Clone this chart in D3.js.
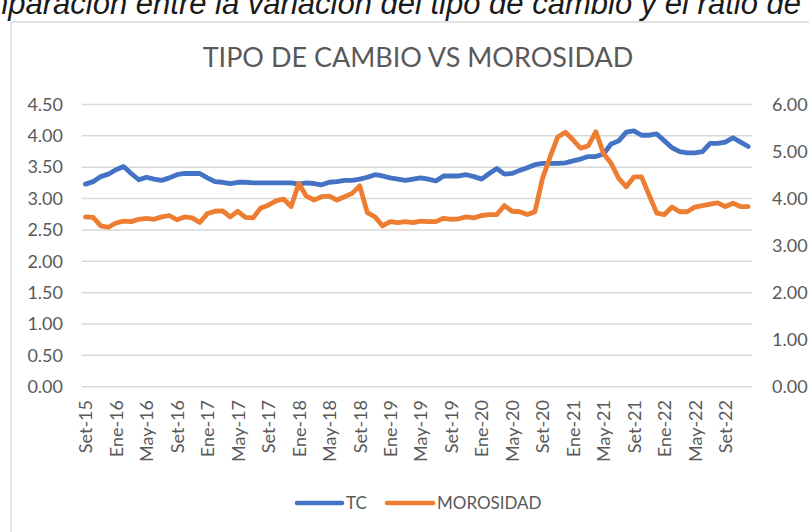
<!DOCTYPE html>
<html><head><meta charset="utf-8">
<script src="https://cdn.jsdelivr.net/npm/d3@7"></script>
<style>
html,body{margin:0;padding:0;background:#fff;}
svg{display:block;}
text{font-family:Lato,"Open Sans",sans-serif;}
</style></head>
<body>
<svg id="chart" width="809" height="532"></svg>
<script>
const categories = ["Set-15","Oct-15","Nov-15","Dic-15",
"Ene-16","Feb-16","Mar-16","Abr-16","May-16","Jun-16","Jul-16","Ago-16","Set-16","Oct-16","Nov-16","Dic-16",
"Ene-17","Feb-17","Mar-17","Abr-17","May-17","Jun-17","Jul-17","Ago-17","Set-17","Oct-17","Nov-17","Dic-17",
"Ene-18","Feb-18","Mar-18","Abr-18","May-18","Jun-18","Jul-18","Ago-18","Set-18","Oct-18","Nov-18","Dic-18",
"Ene-19","Feb-19","Mar-19","Abr-19","May-19","Jun-19","Jul-19","Ago-19","Set-19","Oct-19","Nov-19","Dic-19",
"Ene-20","Feb-20","Mar-20","Abr-20","May-20","Jun-20","Jul-20","Ago-20","Set-20","Oct-20","Nov-20","Dic-20",
"Ene-21","Feb-21","Mar-21","Abr-21","May-21","Jun-21","Jul-21","Ago-21","Set-21","Oct-21","Nov-21","Dic-21",
"Ene-22","Feb-22","Mar-22","Abr-22","May-22","Jun-22","Jul-22","Ago-22","Set-22","Oct-22","Nov-22","Dic-22"];

const tc = [3.23,3.27,3.35,3.39,3.46,3.51,3.40,3.30,3.34,3.31,3.29,3.33,3.38,3.40,3.40,3.40,
3.33,3.27,3.26,3.24,3.26,3.26,3.25,3.25,3.25,3.25,3.25,3.25,
3.23,3.25,3.24,3.22,3.26,3.27,3.29,3.29,3.31,3.34,3.38,3.36,
3.33,3.31,3.29,3.31,3.33,3.31,3.28,3.36,3.36,3.36,3.38,3.35,
3.31,3.40,3.48,3.39,3.40,3.45,3.49,3.54,3.56,3.56,3.56,3.57,
3.60,3.63,3.67,3.67,3.71,3.87,3.92,4.06,4.08,4.01,4.01,4.03,
3.92,3.81,3.75,3.73,3.73,3.75,3.88,3.88,3.90,3.97,3.90,3.83];

const morosidad = [3.61,3.60,3.42,3.39,3.48,3.52,3.51,3.56,3.58,3.56,3.61,3.64,3.55,3.61,3.59,3.49,
3.68,3.73,3.74,3.61,3.73,3.60,3.59,3.80,3.86,3.95,3.99,3.83,
4.32,4.05,3.97,4.04,4.05,3.97,4.04,4.11,4.27,3.70,3.61,3.42,
3.51,3.49,3.51,3.49,3.52,3.51,3.51,3.58,3.56,3.57,3.61,3.59,
3.64,3.66,3.66,3.85,3.73,3.72,3.66,3.72,4.43,4.89,5.31,5.41,
5.25,5.07,5.12,5.42,4.96,4.75,4.43,4.25,4.46,4.46,4.07,3.69,
3.66,3.82,3.72,3.72,3.82,3.85,3.88,3.91,3.83,3.90,3.83,3.83];

const leftTicks = [0,0.5,1,1.5,2,2.5,3,3.5,4,4.5];
const rightTicks = [0,1,2,3,4,5,6];
const seriesNames = ["TC","MOROSIDAD"];
const colors = {TC:"#4472C4", MOROSIDAD:"#ED7D31"};

const svg = d3.select("#chart");
const plotL = 81.7, plotR = 752, plotT = 104.5, plotB = 386.7;

// caption cut at top (as in the source image)
svg.append("text")
  .attr("x", 801).attr("y", 14)
  .attr("text-anchor","end")
  .style("font-family","'Liberation Sans',Arial,sans-serif")
  .style("font-style","italic")
  .style("font-size","31px")
  .attr("fill","#1a1a1a")
  .text("Comparación entre la variación del tipo de cambio y el ratio de");

// chart frame
svg.append("rect").attr("x",11).attr("y",22).attr("width",1000).attr("height",1000)
  .attr("fill","#fff").attr("stroke","#d9d9d9").attr("stroke-width",1.5);

const x = d3.scalePoint().domain(categories).range([plotL, plotR]).padding(0.5);
const yL = d3.scaleLinear().domain([0,4.5]).range([plotB, plotT]);
const yR = d3.scaleLinear().domain([0,6]).range([plotB, plotT]);

// gridlines
svg.append("g").selectAll("line").data(leftTicks).join("line")
  .attr("x1", plotL).attr("x2", plotR)
  .attr("y1", d=>yL(d)).attr("y2", d=>yL(d))
  .attr("stroke","#d9d9d9").attr("stroke-width",1.5);

// left axis
const axL = d3.axisLeft(yL).tickValues(leftTicks).tickFormat(d3.format(".2f")).tickSize(0).tickPadding(0);
const gL = svg.append("g").attr("transform",`translate(${63},0)`).call(axL);
gL.select(".domain").remove();
gL.selectAll("text").attr("fill","#595959").style("font-size","18px").style("font-family","Lato,sans-serif");

// right axis
const axR = d3.axisRight(yR).tickValues(rightTicks).tickFormat(d3.format(".2f")).tickSize(0).tickPadding(0);
const gR = svg.append("g").attr("transform",`translate(${772},0)`).call(axR);
gR.select(".domain").remove();
gR.selectAll("text").attr("fill","#595959").style("font-size","18px").style("font-family","Lato,sans-serif");

// x axis labels every 4 months
const xLabels = categories.filter((c,i)=> i % 4 === 0);
const axX = d3.axisBottom(x).tickValues(xLabels).tickSize(0).tickPadding(0);
const gX = svg.append("g").attr("transform",`translate(0,${400})`).call(axX);
gX.select(".domain").remove();
gX.selectAll("text")
  .attr("fill","#595959").style("font-size","18px").style("font-family","Lato,sans-serif")
  .attr("text-anchor","end")
  .attr("transform","rotate(-90)")
  .attr("x",0).attr("y",0).attr("dy","0.35em");

// lines
const lineL = d3.line().x((d,i)=>x(categories[i])).y(d=>yL(d));
const lineR = d3.line().x((d,i)=>x(categories[i])).y(d=>yR(d));
svg.append("path").datum(tc).attr("d",lineL).attr("fill","none")
  .attr("stroke",colors.TC).attr("stroke-width",4.8).attr("stroke-linejoin","round").attr("stroke-linecap","round");
svg.append("path").datum(morosidad).attr("d",lineR).attr("fill","none")
  .attr("stroke",colors.MOROSIDAD).attr("stroke-width",4.8).attr("stroke-linejoin","round").attr("stroke-linecap","round");

// title
svg.append("text").attr("x",418).attr("y",67).attr("text-anchor","middle")
  .attr("fill","#595959").style("font-size","27px").style("font-family","Lato,sans-serif")
  .text("TIPO DE CAMBIO VS MOROSIDAD");

// legend
const legend = [{name:"TC", x1:297, x2:342, tx:346},{name:"MOROSIDAD", x1:387, x2:433, tx:437}];
const lg = svg.append("g");
legend.forEach(l=>{
  lg.append("line").attr("x1",l.x1).attr("x2",l.x2).attr("y1",503).attr("y2",503)
    .attr("stroke",colors[l.name]).attr("stroke-width",4.5).attr("stroke-linecap","round");
  lg.append("text").attr("x",l.tx).attr("y",503).attr("dy","0.35em")
    .attr("fill","#595959").style("font-size","17px").style("font-family","Lato,sans-serif")
    .text(l.name);
});
</script>
</body></html>
